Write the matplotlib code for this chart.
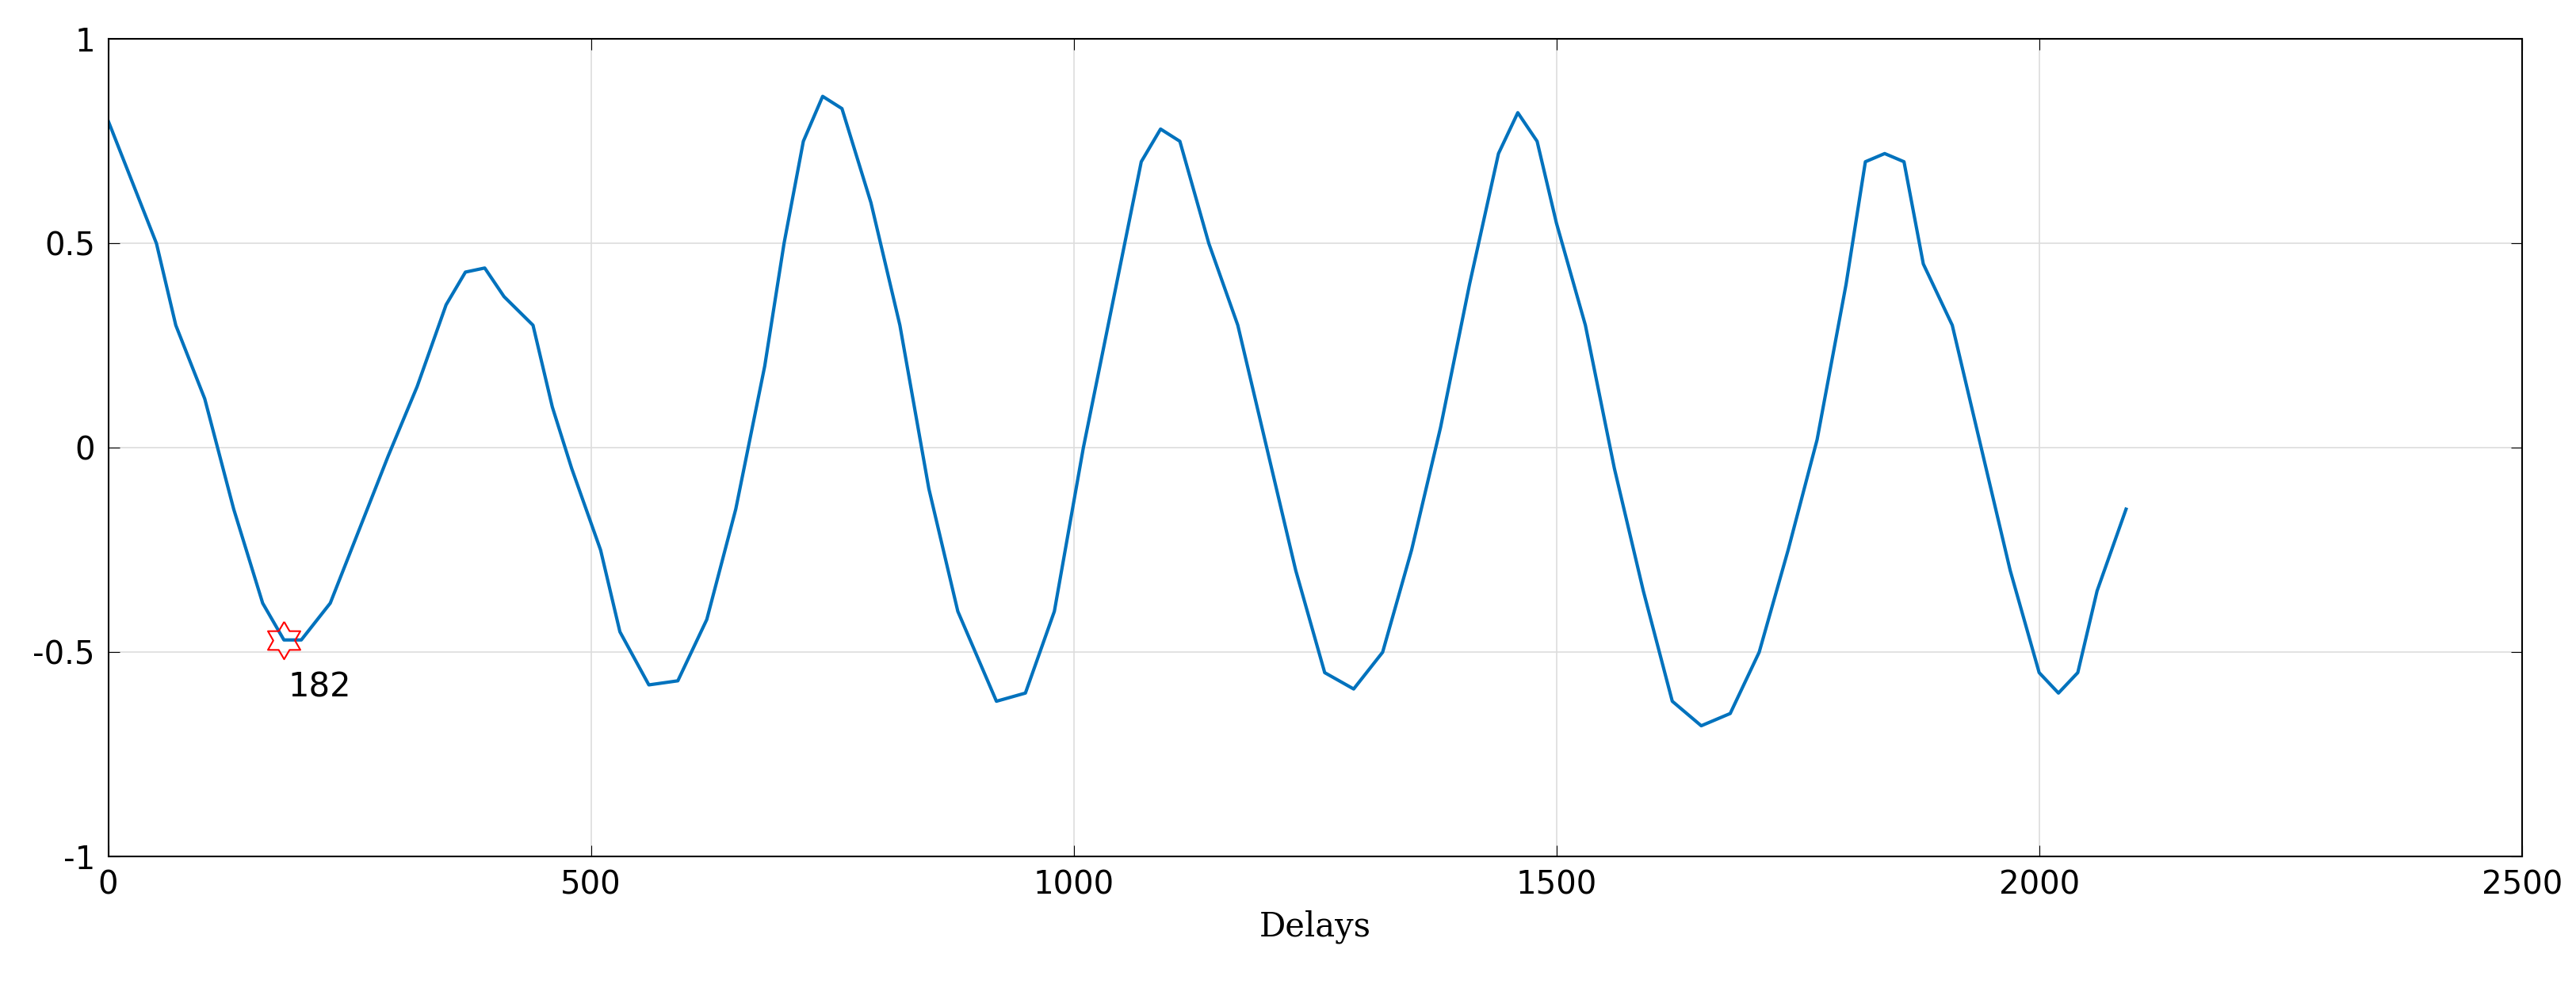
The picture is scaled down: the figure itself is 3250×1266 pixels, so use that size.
import matplotlib
matplotlib.use("Agg")
import matplotlib.pyplot as plt
from matplotlib.path import Path
import numpy as np

delays = [0,20,50,70,100,130,160,182,200,230,260,290,320,350,370,390,410,440,460,480,510,530,560,590,620,650,680,700,720,740,760,790,820,850,880,920,950,980,1010,1040,1070,1090,1110,1140,1170,1200,1230,1260,1290,1320,1350,1380,1410,1440,1460,1480,1500,1530,1560,1590,1620,1650,1680,1710,1740,1770,1800,1820,1840,1860,1880,1910,1940,1970,2000,2020,2040,2060,2090]
acf = [0.80,0.68,0.50,0.30,0.12,-0.15,-0.38,-0.47,-0.47,-0.38,-0.20,-0.02,0.15,0.35,0.43,0.44,0.37,0.30,0.10,-0.05,-0.25,-0.45,-0.58,-0.57,-0.42,-0.15,0.20,0.50,0.75,0.86,0.83,0.60,0.30,-0.10,-0.40,-0.62,-0.60,-0.40,0.0,0.35,0.70,0.78,0.75,0.50,0.30,0.0,-0.30,-0.55,-0.59,-0.50,-0.25,0.05,0.40,0.72,0.82,0.75,0.55,0.30,-0.05,-0.35,-0.62,-0.68,-0.65,-0.50,-0.25,0.02,0.40,0.70,0.72,0.70,0.45,0.30,0.0,-0.30,-0.55,-0.60,-0.55,-0.35,-0.15]
peak_x = 182
peak_y = -0.47

fig = plt.figure(figsize=(32.5, 12.66), dpi=100)
ax = fig.add_axes([0.042, 0.146, 0.937, 0.815])
ax.plot(delays, acf, color='#0072BD', lw=3)
# hexagram marker
ang = np.linspace(np.pi/2, np.pi/2 + 2*np.pi, 13)
r = np.array([1 if i % 2 == 0 else 0.58 for i in range(13)])
verts = np.column_stack([r*np.cos(ang), r*np.sin(ang)])
hexa = Path(verts)
ax.plot([peak_x], [peak_y], marker=hexa, ms=34, mfc='none', mec='red', mew=1.5)
ax.annotate(str(peak_x), (peak_x, peak_y), xytext=(4, -28), textcoords='offset points',
            fontsize=30, va='top', ha='left')
ax.set_xlim(0, 2500)
ax.set_ylim(-1, 1)
ax.set_xticks([0, 500, 1000, 1500, 2000, 2500])
ax.set_yticks([-1, -0.5, 0, 0.5, 1])
ax.set_yticklabels(['-1', '-0.5', '0', '0.5', '1'])
ax.tick_params(direction='in', labelsize=29, length=10, top=True, right=True, pad=12)
ax.grid(True, color='#dddddd', lw=1.2)
for s in ax.spines.values():
    s.set_linewidth(1.5)
ax.set_xlabel('Delays', fontsize=30, family='DejaVu Serif', labelpad=8)
fig.savefig('out.png')
